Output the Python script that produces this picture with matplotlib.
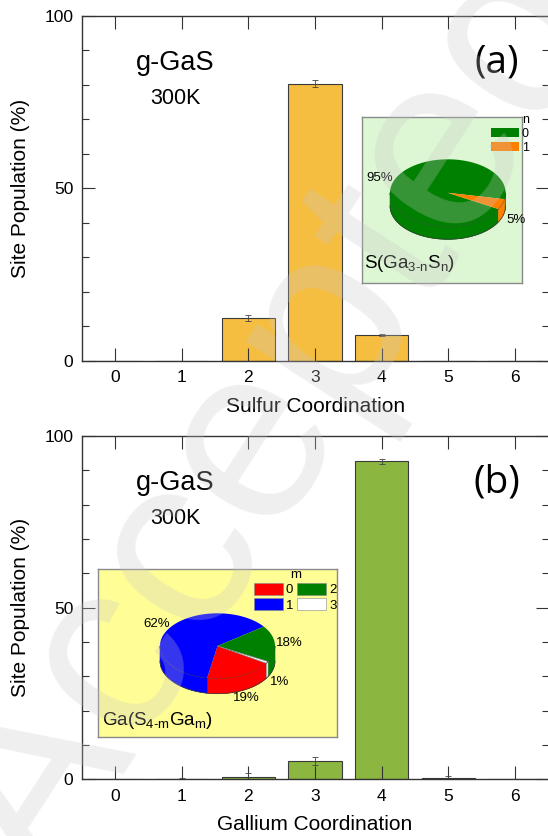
import matplotlib
matplotlib.use('Agg')

import matplotlib.pyplot as plt
from matplotlib.patches import Polygon, Patch
from matplotlib.ticker import MultipleLocator
import numpy as np

plt.rcParams['font.family'] = ['Liberation Sans', 'DejaVu Sans']
plt.rcParams['mathtext.default'] = 'regular'

W, H = 548, 836

# ---- data ----
coord = [0, 1, 2, 3, 4, 5, 6]
sulfur_pop = [0.0, 0.0, 12.3, 80.3, 7.4, 0.0, 0.0]
sulfur_err = [0.0, 0.0, 0.9, 1.0, 0.3, 0.0, 0.0]
gallium_pop = [0.0, 0.2, 0.8, 5.4, 92.6, 0.5, 0.0]
gallium_err = [0.0, 0.2, 1.0, 1.1, 0.7, 0.5, 0.0]

s_pie_labels = ['0', '1']
s_pie_values = [95, 5]
g_pie_labels = ['0', '1', '2', '3']
g_pie_values = [19, 62, 18, 1]


def px_rect(x0, y0, x1, y1):
    """pixel box (y from top) -> figure fraction rect"""
    return [x0 / W, 1 - y1 / H, (x1 - x0) / W, (y1 - y0) / H]


def pie3d(ax, values, colors, cx, cy, a, b, depth, start):
    """3D-looking pie, clockwise from start angle, in pixel coords (y down)"""
    fr = np.asarray(values, float) / np.sum(values)
    bounds = start - 360 * np.concatenate([[0], np.cumsum(fr)])
    # side walls (front half only)
    for i, c in enumerate(colors):
        t0, t1 = bounds[i + 1], bounds[i]
        for k in range(-3, 3):
            lo, hi = max(t0, 180 + 360 * k), min(t1, 360 + 360 * k)
            if hi <= lo:
                continue
            t = np.radians(np.linspace(lo, hi, 80))
            x = cx + a * np.cos(t)
            y = cy - b * np.sin(t)
            pts = np.vstack([np.column_stack([x, y]),
                             np.column_stack([x, y + depth])[::-1]])
            ax.add_patch(Polygon(pts, closed=True, fc=c,
                                 ec='#777777' if c == 'white' else c, lw=0.4))
    t = np.radians(np.linspace(180, 360, 200))
    ax.plot(cx + a * np.cos(t), cy - b * np.sin(t) + depth, color='#333333', lw=0.5)
    ax.plot(cx + a * np.cos(t), cy - b * np.sin(t), color='#333333', lw=0.4, alpha=0.6)
    # top
    for i, c in enumerate(colors):
        t = np.radians(np.linspace(bounds[i + 1], bounds[i], 120))
        pts = np.vstack([[cx, cy], np.column_stack([cx + a * np.cos(t), cy - b * np.sin(t)])])
        ax.add_patch(Polygon(pts, closed=True, fc=c,
                             ec='#777777' if c == 'white' else 'none', lw=0.5))
    # percentage labels
    for i in range(len(values)):
        m = np.radians((bounds[i] + bounds[i + 1]) / 2)
        lx = cx + 1.25 * a * np.cos(m)
        ly = cy - 1.25 * b * np.sin(m) + (depth if np.sin(m) < 0 else 0)
        ax.text(lx, ly, f'{values[i]}%', fontsize=9.5, ha='center', va='center')


def inset(fig, box, bg):
    x0, y0, x1, y1 = box
    ax = fig.add_axes(px_rect(x0, y0, x1, y1))
    ax.set_xlim(x0, x1)
    ax.set_ylim(y1, y0)
    ax.set_facecolor(bg)
    ax.set_xticks([])
    ax.set_yticks([])
    for sp in ax.spines.values():
        sp.set_color('#8a8a8a')
        sp.set_linewidth(1.0)
    return ax


def style_axes(ax, xlabel):
    ax.set_xlim(-0.5, 6.5)
    ax.set_ylim(0, 100)
    ax.set_xticks(coord)
    ax.yaxis.set_major_locator(MultipleLocator(50))
    ax.yaxis.set_minor_locator(MultipleLocator(10))
    ax.tick_params(which='both', direction='in', top=True, right=True,
                   width=0.8, color='#333333', labelsize=12.5)
    ax.tick_params(which='major', length=9.5)
    ax.tick_params(which='minor', length=5.3)
    ax.tick_params(axis='x', pad=7)
    ax.tick_params(axis='y', pad=6)
    for sp in ax.spines.values():
        sp.set_linewidth(1.0)
        sp.set_color('#333333')
    ax.set_xlabel(xlabel, fontsize=15, labelpad=8)
    ax.set_ylabel('Site Population (%)', fontsize=15, labelpad=10)


fig = plt.figure(figsize=(W / 100, H / 100), dpi=100)

# ---------------- (a) sulfur ----------------
ax1 = fig.add_axes(px_rect(81.7, 16, 548.5, 360.7))
ax1.bar(coord, sulfur_pop, width=0.8, color='#F6BE41', edgecolor='#3a3a3a', lw=0.8,
        yerr=sulfur_err, capsize=2.2,
        error_kw=dict(elinewidth=0.6, capthick=0.6, ecolor='#444444'))
style_axes(ax1, 'Sulfur Coordination')
ax1.text(0.2, 0.843, 'g-GaS', transform=ax1.transAxes, fontsize=19.5, ha='center', va='baseline')
ax1.text(0.2, 0.745, '300K', transform=ax1.transAxes, fontsize=15.5, ha='center', va='baseline')
ax1.text(0.889, 0.864, '(a)', transform=ax1.transAxes, fontsize=28, ha='center', va='center',
         family=['Open Sans', 'DejaVu Sans'])

ins1 = inset(fig, (362.3, 116.7, 522.3, 282.7), '#DDF6D3')
s_colors = ['#008000', '#FF8000']
pie3d(ins1, s_pie_values, s_colors, 447.8, 192.8, 57.8, 33.5, 13, -29)
ins1.text(364, 268, 'S(Ga$_{3\u2010n}$S$_{n}$)', fontsize=13.5, va='baseline', ha='left')
leg1 = ins1.legend([Patch(fc=c, ec='none') for c in s_colors], s_pie_labels,
                   title='n', loc='upper right', bbox_to_anchor=(529, 114),
                   bbox_transform=ins1.transData, frameon=False, fontsize=9,
                   title_fontsize=9, handlelength=2.2, handleheight=0.8,
                   handletextpad=0.25, labelspacing=0.15, borderpad=0,
                   borderaxespad=0, alignment='right')

# ---------------- (b) gallium ----------------
ax2 = fig.add_axes(px_rect(81.7, 436, 548.5, 779.3))
ax2.bar(coord, gallium_pop, width=0.8, color='#8BB63F', edgecolor='#3a3a3a', lw=0.8,
        yerr=gallium_err, capsize=2.2,
        error_kw=dict(elinewidth=0.6, capthick=0.6, ecolor='#444444'))
style_axes(ax2, 'Gallium Coordination')
ax2.text(0.2, 0.843, 'g-GaS', transform=ax2.transAxes, fontsize=19.5, ha='center', va='baseline')
ax2.text(0.2, 0.745, '300K', transform=ax2.transAxes, fontsize=15.5, ha='center', va='baseline')
ax2.text(0.889, 0.864, '(b)', transform=ax2.transAxes, fontsize=28, ha='center', va='center',
         family=['Open Sans', 'DejaVu Sans'])

ins2 = inset(fig, (98.3, 569.3, 337.3, 736.7), '#FFFD96')
g_colors = ['#FF0000', '#0000FF', '#008000', 'white']
pie3d(ins2, g_pie_values, g_colors, 217.5, 646, 57.5, 32.7, 15, -32)
ins2.text(101.7, 725, 'Ga(S$_{4\u2010m}$Ga$_{m}$)', fontsize=13.5, va='baseline', ha='left')
leg2 = ins2.legend([Patch(fc=c, ec='#888888', lw=0.4) for c in g_colors], g_pie_labels,
                   title='m', ncol=2, loc='upper right', bbox_to_anchor=(337, 569),
                   bbox_transform=ins2.transData, frameon=False, fontsize=9.5,
                   title_fontsize=9.5, handlelength=2.2, handleheight=1.0,
                   handletextpad=0.25, labelspacing=0.15, columnspacing=0.3,
                   borderpad=0, borderaxespad=0)

# watermark
fig.text(275 / W, 1 - 420 / H, 'Accepted', rotation=57, fontsize=180, color='#c8c8c8',
         alpha=0.28, ha='center', va='center', zorder=100)

fig.savefig('out.png', dpi=100)
